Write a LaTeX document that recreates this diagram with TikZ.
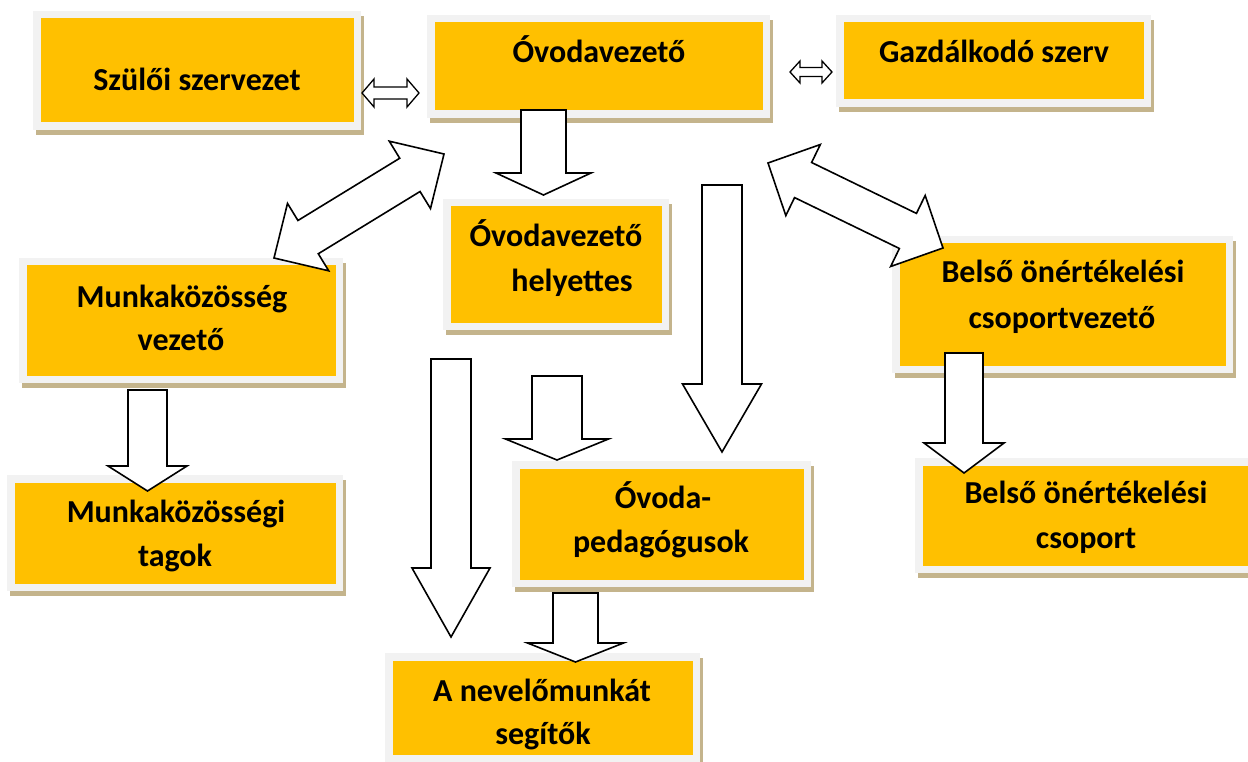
\documentclass[tikz,border=0pt]{standalone}
\usepackage{fontspec}
\setmainfont{Carlito}
\usetikzlibrary{calc,shadows}
\definecolor{boxy}{HTML}{FFC000}
\definecolor{frameg}{HTML}{F2F2F2}
\definecolor{shadowc}{HTML}{C4B48C}
\tikzset{
  orgbox/.style 2 args={rectangle, fill=frameg, inner sep=0pt, outer sep=0pt,
    minimum width=#1, minimum height=#2,
    drop shadow={shadow xshift=3pt, shadow yshift=-5pt, fill=shadowc, opacity=1},
    path picture={\fill[boxy] ($(path picture bounding box.south west)+(7.5pt,7.5pt)$) rectangle ($(path picture bounding box.north east)+(-7.5pt,-7.5pt)$);}},
  lbl/.style={anchor=base, inner sep=0pt, font=\fontsize{32}{37}\selectfont\bfseries},
  blockarrow/.style={draw=black, fill=white, line width=1.6pt, line join=miter},
  smallarrow/.style={blockarrow, line width=1.3pt},
}
% single block arrow: tail, tip, half shaft, half head, head length, style
\newcommand{\sblock}[6]{%
  \coordinate (sbN) at ($(#2)!#5!(#1)$);
  \draw[#6] ($(#1)!#3!90:(#2)$) -- ($(sbN)!#3!90:(#2)$) -- ($(sbN)!#4!90:(#2)$) -- (#2)
    -- ($(sbN)!#4!-90:(#2)$) -- ($(sbN)!#3!-90:(#2)$) -- ($(#1)!#3!-90:(#2)$) -- cycle;}
% double block arrow: tip A, tip B, half shaft, half head, head length, style
\newcommand{\dblock}[6]{%
  \coordinate (dbA) at ($(#1)!#5!(#2)$);
  \coordinate (dbB) at ($(#2)!#5!(#1)$);
  \draw[#6] (#1) -- ($(dbA)!#4!90:(#2)$) -- ($(dbA)!#3!90:(#2)$) -- ($(dbB)!#3!-90:(#1)$)
    -- ($(dbB)!#4!-90:(#1)$) -- (#2) -- ($(dbB)!#4!90:(#1)$) -- ($(dbB)!#3!90:(#1)$)
    -- ($(dbA)!#3!-90:(#2)$) -- ($(dbA)!#4!-90:(#2)$) -- cycle;}
\begin{document}
\begin{tikzpicture}[x=1pt,y=-1pt]
\useasboundingbox (0,0) rectangle (1248,762);
% boxes
\node[orgbox={328pt}{119pt}] (szulo) at (197,70.5) {};
\node[orgbox={343pt}{103pt}] (ovez) at (598.5,66.5) {};
\node[orgbox={315pt}{92pt}] (gazd) at (993.5,61) {};
\node[orgbox={226pt}{131pt}] (helyettes) at (556,264.5) {};
\node[orgbox={324pt}{125pt}] (mkvez) at (181,320.5) {};
\node[orgbox={336pt}{116pt}] (mktag) at (175,533) {};
\node[orgbox={299pt}{126pt}] (pedag) at (661.5,524) {};
\node[orgbox={315pt}{109pt}] (nevelo) at (542.5,707.5) {};
\node[orgbox={341pt}{137pt}] (bcsv) at (1062.5,304.5) {};
\node[orgbox={343pt}{115pt}] (bcs) at (1086.5,515.5) {};
% labels
\node[lbl] (szulo-t) at (197,91) {Szülői szervezet};
\node[lbl] (ovez-t) at (599,63) {Óvodavezető};
\node[lbl] (gazd-t) at (994,63) {Gazdálkodó szerv};
\node[lbl] (helyettes-t1) at (556,247) {Óvodavezető};
\node[lbl] (helyettes-t2) at (572,291) {helyettes};
\node[lbl] (mkvez-t1) at (182,307) {Munkaközösség};
\node[lbl] (mkvez-t2) at (181,350) {vezető};
\node[lbl] (mktag-t1) at (176,522) {Munkaközösségi};
\node[lbl] (mktag-t2) at (175,566) {tagok};
\node[lbl] (pedag-t1) at (663,508) {Óvoda-};
\node[lbl] (pedag-t2) at (661,552) {pedagógusok};
\node[lbl] (nevelo-t1) at (542,701) {A nevelőmunkát};
\node[lbl] (nevelo-t2) at (543,744) {segítők};
\node[lbl] (bcsv-t1) at (1063,283) {Belső önértékelési};
\node[lbl] (bcsv-t2) at (1062,328) {csoportvezető};
\node[lbl] (bcs-t1) at (1086,503) {Belső önértékelési};
\node[lbl] (bcs-t2) at (1086,548) {csoport};
% connector end points
\coordinate (a1) at (362,93);   \coordinate (a2) at (419,93);
\coordinate (b1) at (790,72);   \coordinate (b2) at (832,72);
\coordinate (c1) at (543.5,110); \coordinate (c2) at (543.5,195);
\coordinate (d1) at (274,258);  \coordinate (d2) at (444,154);
\coordinate (e1) at (768,163);  \coordinate (e2) at (943,248);
\coordinate (f1) at (722,185);  \coordinate (f2) at (722,452);
\coordinate (g1) at (147.5,390); \coordinate (g2) at (147.5,491);
\coordinate (h1) at (451,359);  \coordinate (h2) at (451,637);
\coordinate (i1) at (557,376);  \coordinate (i2) at (557,460);
\coordinate (j1) at (575.5,593); \coordinate (j2) at (575.5,662);
\coordinate (k1) at (964,353);  \coordinate (k2) at (964,473);
% block arrows
\dblock{a1}{a2}{6pt}{14pt}{12pt}{smallarrow}
\dblock{b1}{b2}{4.5pt}{11pt}{10pt}{smallarrow}
\sblock{c1}{c2}{22.5pt}{47.5pt}{22pt}{blockarrow}
\dblock{d1}{d2}{19.5pt}{39.5pt}{40pt}{blockarrow}
\dblock{e1}{e2}{19.5pt}{39.5pt}{39pt}{blockarrow}
\sblock{f1}{f2}{20pt}{39.5pt}{68pt}{blockarrow}
\sblock{g1}{g2}{19.5pt}{39.5pt}{25pt}{blockarrow}
\sblock{h1}{h2}{20pt}{39pt}{69pt}{blockarrow}
\sblock{i1}{i2}{25pt}{51.5pt}{21pt}{blockarrow}
\sblock{j1}{j2}{22.5pt}{48pt}{19pt}{blockarrow}
\sblock{k1}{k2}{19pt}{40pt}{30pt}{blockarrow}
\end{tikzpicture}
\end{document}
